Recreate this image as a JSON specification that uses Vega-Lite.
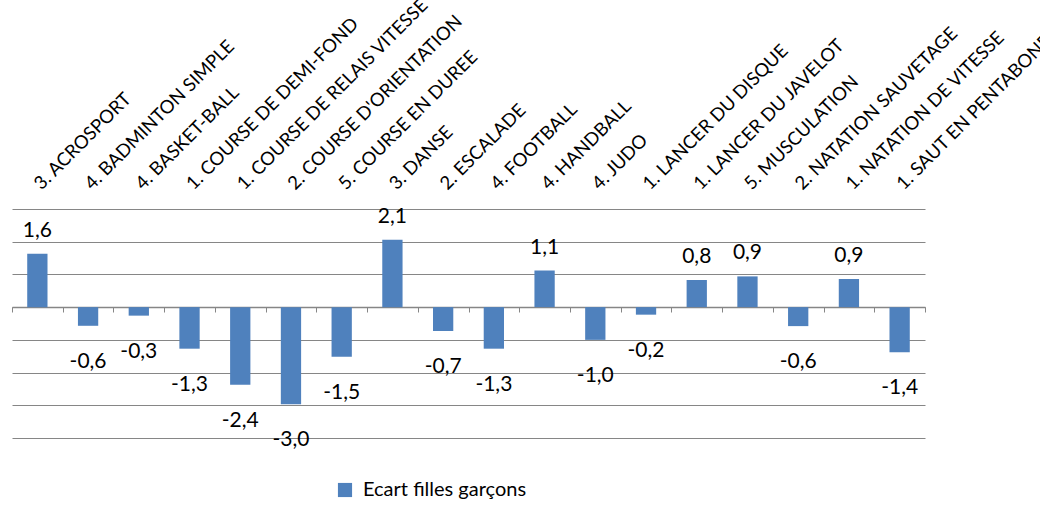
{
  "$schema": "https://vega.github.io/schema/vega-lite/v6.json",
  "width": 913,
  "height": 229,
  "autosize": "none",
  "padding": {"left": 12, "top": 209, "right": 115, "bottom": 69},
  "background": "white",
  "config": {
    "locale": {"number": {"decimal": ",", "thousands": " ", "grouping": [3], "currency": ["", " €"], "minus": "-"}},
    "view": {"stroke": null},
    "font": "Lato"
  },
  "data": {
    "values": [
      {"apsa": "3. ACROSPORT", "ecart": 1.63, "serie": "Ecart filles garçons"},
      {"apsa": "4. BADMINTON SIMPLE", "ecart": -0.57, "serie": "Ecart filles garçons"},
      {"apsa": "4. BASKET-BALL", "ecart": -0.26, "serie": "Ecart filles garçons"},
      {"apsa": "1. COURSE DE DEMI-FOND", "ecart": -1.27, "serie": "Ecart filles garçons"},
      {"apsa": "1. COURSE DE RELAIS VITESSE", "ecart": -2.37, "serie": "Ecart filles garçons"},
      {"apsa": "2. COURSE D'ORIENTATION", "ecart": -2.97, "serie": "Ecart filles garçons"},
      {"apsa": "5. COURSE EN DUREE", "ecart": -1.52, "serie": "Ecart filles garçons"},
      {"apsa": "3. DANSE", "ecart": 2.06, "serie": "Ecart filles garçons"},
      {"apsa": "2. ESCALADE", "ecart": -0.73, "serie": "Ecart filles garçons"},
      {"apsa": "4. FOOTBALL", "ecart": -1.27, "serie": "Ecart filles garçons"},
      {"apsa": "4. HANDBALL", "ecart": 1.12, "serie": "Ecart filles garçons"},
      {"apsa": "4. JUDO", "ecart": -1.0, "serie": "Ecart filles garçons"},
      {"apsa": "1. LANCER DU DISQUE", "ecart": -0.23, "serie": "Ecart filles garçons"},
      {"apsa": "1. LANCER DU JAVELOT", "ecart": 0.83, "serie": "Ecart filles garçons"},
      {"apsa": "5. MUSCULATION", "ecart": 0.94, "serie": "Ecart filles garçons"},
      {"apsa": "2. NATATION SAUVETAGE", "ecart": -0.58, "serie": "Ecart filles garçons"},
      {"apsa": "1. NATATION DE VITESSE", "ecart": 0.86, "serie": "Ecart filles garçons"},
      {"apsa": "1. SAUT EN PENTABOND", "ecart": -1.38, "serie": "Ecart filles garçons"}
    ]
  },
  "layer": [
    {
      "mark": {"type": "bar", "width": {"band": 0.4}, "color": "#4F81BD"},
      "encoding": {
        "x": {
          "field": "apsa", "type": "nominal", "sort": null,
          "scale": {"paddingInner": 0, "paddingOuter": 0},
          "axis": {
            "orient": "top", "title": null, "labelAngle": -45, "labelAlign": "left",
            "labelBaseline": "middle", "labelPadding": 23, "ticks": false, "domain": false,
            "grid": false, "labelFontSize": 18.5, "labelColor": "#000000", "labelLimit": 0,
            "labelOverlap": false, "labelFont": "Lato"
          }
        },
        "y": {
          "field": "ecart", "type": "quantitative",
          "scale": {"domain": [-4, 3], "nice": false, "zero": true},
          "axis": {
            "title": null, "labels": false, "ticks": false, "domain": false, "grid": true,
            "values": [-4, -3, -2, -1, 0, 1, 2, 3], "tickCount": 8, "labelOverlap": false,
            "gridColor": "#868686", "gridWidth": 1
          }
        },
        "color": {
          "field": "serie", "type": "nominal",
          "scale": {"range": ["#4F81BD"]},
          "legend": {
            "orient": "none", "legendX": 323, "legendY": 271, "title": null,
            "symbolType": "square", "symbolSize": 200, "symbolStrokeWidth": 0,
            "symbolOpacity": 1, "labelFontSize": 20, "labelFont": "Lato",
            "labelColor": "#000000", "labelOffset": 8, "labelLimit": 0
          }
        }
      }
    },
    {
      "transform": [{"filter": "datum.ecart >= 0"}],
      "mark": {"type": "text", "baseline": "alphabetic", "dy": -17, "fontSize": 21, "font": "Lato", "color": "#000000"},
      "encoding": {
        "x": {
          "field": "apsa", "type": "nominal", "sort": null,
          "axis": {
            "orient": "bottom", "offset": -131, "title": null, "labels": false,
            "tickBand": "extent", "tickSize": 5, "tickColor": "#868686",
            "domainColor": "#868686", "domainWidth": 1.5, "grid": false
          }
        },
        "y": {"field": "ecart", "type": "quantitative", "axis": null},
        "text": {"field": "ecart", "type": "quantitative", "format": ".1f"}
      }
    },
    {
      "transform": [{"filter": "datum.ecart < 0"}],
      "mark": {"type": "text", "baseline": "top", "dy": 25, "fontSize": 21, "font": "Lato", "color": "#000000"},
      "encoding": {
        "x": {"field": "apsa", "type": "nominal", "sort": null, "axis": null},
        "y": {"field": "ecart", "type": "quantitative", "axis": null},
        "text": {"field": "ecart", "type": "quantitative", "format": ".1f"}
      }
    }
  ],
  "resolve": {"axis": {"x": "independent", "y": "independent"}}
}
